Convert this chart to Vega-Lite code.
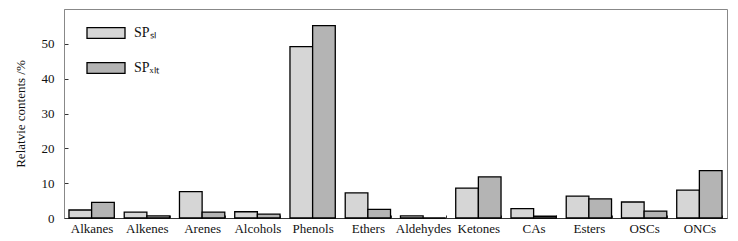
{
  "$schema": "https://vega.github.io/schema/vega-lite/v6.json",
  "width": 663,
  "height": 209,
  "autosize": {"type": "none"},
  "padding": {"left": 64, "top": 9, "right": 11, "bottom": 23},
  "background": "white",
  "config": {
    "font": "Liberation Serif",
    "view": {"stroke": "#888", "strokeWidth": 1},
    "axis": {"labelFont": "Liberation Serif", "titleFont": "Liberation Serif", "labelColor": "#111", "titleColor": "#111", "domainColor": "#888", "tickColor": "#333"}
  },
  "data": {"values": [
    {"cat": "Alkanes", "series": "SL", "value": 2.3},
    {"cat": "Alkanes", "series": "XLT", "value": 4.5},
    {"cat": "Alkenes", "series": "SL", "value": 1.7},
    {"cat": "Alkenes", "series": "XLT", "value": 0.6},
    {"cat": "Arenes", "series": "SL", "value": 7.6},
    {"cat": "Arenes", "series": "XLT", "value": 1.7},
    {"cat": "Alcohols", "series": "SL", "value": 1.8},
    {"cat": "Alcohols", "series": "XLT", "value": 1.1},
    {"cat": "Phenols", "series": "SL", "value": 49.2},
    {"cat": "Phenols", "series": "XLT", "value": 55.2},
    {"cat": "Ethers", "series": "SL", "value": 7.2},
    {"cat": "Ethers", "series": "XLT", "value": 2.5},
    {"cat": "Aldehydes", "series": "SL", "value": 0.6},
    {"cat": "Aldehydes", "series": "XLT", "value": 0},
    {"cat": "Ketones", "series": "SL", "value": 8.6},
    {"cat": "Ketones", "series": "XLT", "value": 11.8},
    {"cat": "CAs", "series": "SL", "value": 2.7},
    {"cat": "CAs", "series": "XLT", "value": 0.5},
    {"cat": "Esters", "series": "SL", "value": 6.3},
    {"cat": "Esters", "series": "XLT", "value": 5.5},
    {"cat": "OSCs", "series": "SL", "value": 4.6},
    {"cat": "OSCs", "series": "XLT", "value": 2.0},
    {"cat": "ONCs", "series": "SL", "value": 8.0},
    {"cat": "ONCs", "series": "XLT", "value": 13.6}
  ]},
  "mark": {"type": "bar", "stroke": "#000", "strokeWidth": 1.3},
  "encoding": {
    "x": {
      "field": "cat", "type": "nominal", "sort": null,
      "scale": {"paddingInner": 0.18, "paddingOuter": 0.09},
      "axis": {"title": null, "labelAngle": 0, "labelFontSize": 13, "labelPadding": 7, "tickBand": "extent", "tickSize": -3, "domainColor": "#333", "labelColor": "#111"}
    },
    "xOffset": {"field": "series", "type": "nominal", "scale": {"paddingInner": 0, "paddingOuter": 0}},
    "y": {
      "field": "value", "type": "quantitative",
      "scale": {"domain": [0, 60], "nice": false},
      "axis": {"title": "Relatvie contents /%", "titleFontSize": 13, "titleFontWeight": "normal", "titlePadding": 14, "values": [0, 10, 20, 30, 40, 50], "labelFontSize": 13, "tickSize": -4, "labelPadding": 14, "grid": false}
    },
    "fill": {
      "field": "series", "type": "nominal",
      "scale": {"domain": ["SL", "XLT"], "range": ["#d6d6d6", "#b4b4b4"]},
      "legend": {
        "title": null, "orient": "none", "legendX": 22, "legendY": 4, "padding": 0,
        "symbolType": "M-1,-0.28L1,-0.28L1,0.28L-1,0.28Z", "symbolSize": 1444,
        "symbolStrokeColor": "#000", "symbolStrokeWidth": 1.3,
        "labelFontSize": 14, "labelColor": "#111", "labelOffset": 8, "rowPadding": 7,
        "labelExpr": "datum.label == 'SL' ? 'SPₛₗ' : 'SPₓₗₜ'"
      }
    }
  }
}
